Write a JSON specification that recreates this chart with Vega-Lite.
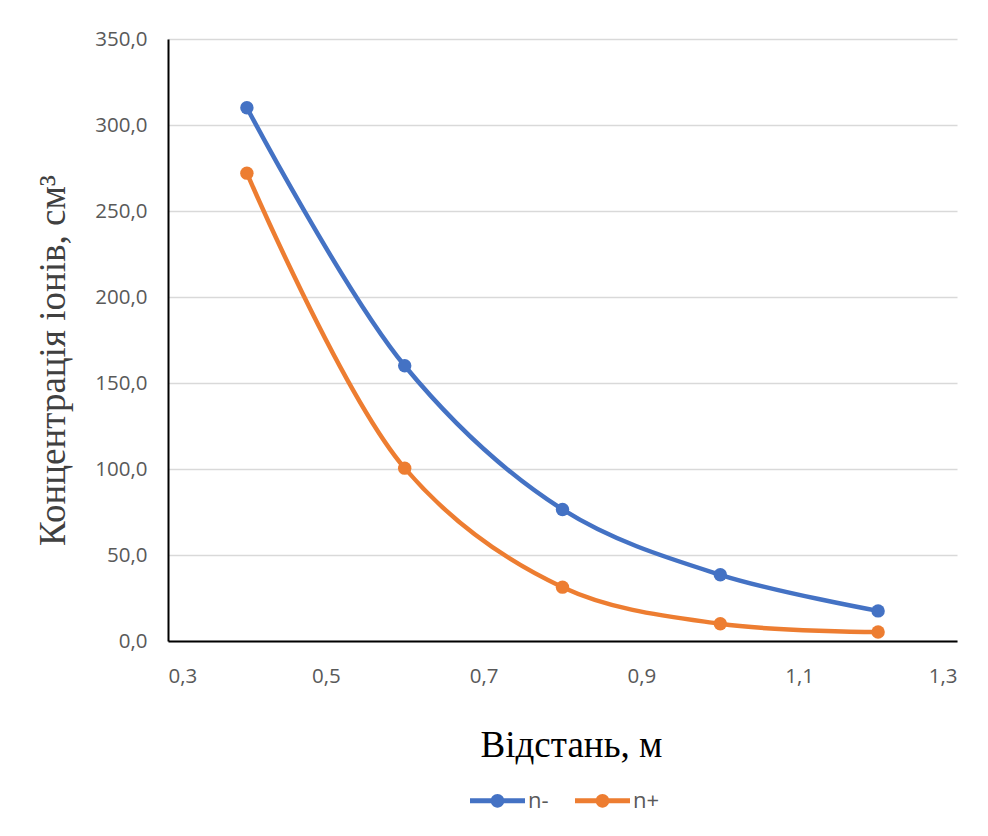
{
  "$schema": "https://vega.github.io/schema/vega-lite/v6.json",
  "width": 789,
  "height": 602,
  "autosize": {"type": "none"},
  "padding": {"left": 168, "top": 39, "right": 31, "bottom": 195},
  "background": "white",
  "data": {
    "values": [
      {"x": 0.4, "y": 310, "s": "n-"},
      {"x": 0.6, "y": 160, "s": "n-"},
      {"x": 0.8, "y": 76.5, "s": "n-"},
      {"x": 1.0, "y": 38.5, "s": "n-"},
      {"x": 1.2, "y": 17.5, "s": "n-"},
      {"x": 0.4, "y": 272, "s": "n+"},
      {"x": 0.6, "y": 100.5, "s": "n+"},
      {"x": 0.8, "y": 31.3, "s": "n+"},
      {"x": 1.0, "y": 10, "s": "n+"},
      {"x": 1.2, "y": 5.2, "s": "n+"}
    ]
  },
  "encoding": {
    "x": {
      "field": "x", "type": "quantitative",
      "scale": {"domain": [0.3, 1.3], "nice": false, "zero": false},
      "axis": {
        "values": [0.3, 0.5, 0.7, 0.9, 1.1, 1.3],
        "labelExpr": "replace(format(datum.value, '.1f'), '.', ',')",
        "grid": false, "ticks": false,
        "domainColor": "#000000", "domainWidth": 2,
        "labelFont": "Open Sans", "labelFontSize": 20.5, "labelColor": "#595959",
        "labelPadding": 25,
        "title": "Відстань, м",
        "titleFont": "Liberation Serif", "titleFontSize": 37, "titleFontWeight": "normal",
        "titleColor": "#000000", "titlePadding": 41, "titleX": 403
      }
    },
    "y": {
      "field": "y", "type": "quantitative",
      "scale": {"domain": [0, 350], "nice": false},
      "axis": {
        "values": [0, 50, 100, 150, 200, 250, 300, 350],
        "labelExpr": "replace(format(datum.value, '.1f'), '.', ',')",
        "grid": true, "gridColor": "#d9d9d9", "gridWidth": 1.3,
        "ticks": false,
        "domainColor": "#000000", "domainWidth": 2,
        "labelFont": "Open Sans", "labelFontSize": 20.5, "labelColor": "#595959",
        "labelPadding": 21,
        "title": "Концентрація іонів, см³",
        "titleFont": "Liberation Serif", "titleFontSize": 37, "titleFontWeight": "normal",
        "titleColor": "#404040", "titlePadding": 22, "titleY": 321
      }
    },
    "color": {
      "field": "s", "type": "nominal",
      "scale": {"domain": ["n-", "n+"], "range": ["#4472c4", "#ed7d31"]},
      "legend": {
        "title": null,
        "orient": "none",
        "legendX": 302,
        "legendY": 734,
        "direction": "horizontal",
        "labelFont": "Open Sans", "labelFontSize": 22, "labelColor": "#595959",
        "symbolType": "M-1,-0.09H1V0.09H-1Z M0.25,0A0.25,0.25 0 1,1 -0.25,0A0.25,0.25 0 1,1 0.25,0Z",
        "symbolSize": 3025,
        "symbolStrokeWidth": 0,
        "symbolOpacity": 1,
        "labelOffset": 3,
        "columnPadding": 26
      }
    }
  },
  "layer": [
    {"mark": {"type": "line", "interpolate": "catmull-rom", "strokeWidth": 4.5}},
    {"mark": {"type": "point", "filled": true, "size": 180, "opacity": 1}}
  ],
  "config": {"view": {"stroke": null}}
}
